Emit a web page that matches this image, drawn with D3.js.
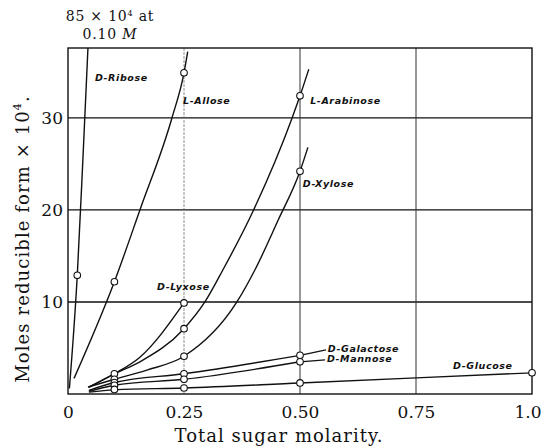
<!DOCTYPE html>
<html>
<head>
<meta charset="utf-8">
<script src="https://cdn.jsdelivr.net/npm/d3@7"></script>
<style>
  body { margin: 0; background: #fff; }
  svg text { fill: #111; }
</style>
</head>
<body>
<div id="chart"></div>
<script>
// curve control points [molarity, moles x 10^4]
const ribose    = [[0.003, 0.6], [0.02, 12.9], [0.032, 25.4], [0.043, 37.6]];
const allose    = [[0.013, 1.7], [0.1, 12.2], [0.155, 20], [0.224, 30], [0.25, 34.9], [0.258, 37.2]];
const lyxose    = [[0.045, 0.75], [0.1, 2.2], [0.155, 4.0], [0.25, 9.9]];
const arabinose = [[0.045, 0.75], [0.1, 2.2], [0.155, 3.5], [0.25, 7.1], [0.295, 10], [0.334, 13.5], [0.4, 20], [0.483, 30], [0.5, 32.4], [0.519, 35.3]];
const xylose    = [[0.043, 0.75], [0.1, 1.6], [0.17, 2.6], [0.25, 4.1], [0.364, 10], [0.403, 13.5], [0.453, 18.9], [0.5, 24.2], [0.517, 26.8]];
const galactose = [[0.045, 0.4], [0.1, 1.25], [0.25, 2.2], [0.5, 4.2]];
const mannose   = [[0.045, 0.3], [0.1, 0.95], [0.25, 1.6], [0.5, 3.5]];
const glucose   = [[0.045, 0.2], [0.1, 0.45], [0.25, 0.65], [0.5, 1.2], [1.0, 2.3]];

// measured points (open circles)
const measured = [
  [0.02, 12.9],
  [0.1, 12.2], [0.25, 34.9],
  [0.25, 9.9],
  [0.1, 2.2], [0.25, 7.1], [0.5, 32.4],
  [0.1, 1.6], [0.25, 4.1], [0.5, 24.2],
  [0.1, 1.25], [0.25, 2.2], [0.5, 4.2],
  [0.1, 0.95], [0.25, 1.6], [0.5, 3.5],
  [0.1, 0.5], [0.25, 0.65], [0.5, 1.2], [1.0, 2.3]
];

// labels: text, x, y (data units), optional leader
const labels = [
  { name: "D-Ribose",    x: 0.058, y: 34.0 },
  { name: "L-Allose",    x: 0.248, y: 31.5 },
  { name: "L-Arabinose", x: 0.522, y: 31.5 },
  { name: "D-Xylose",    x: 0.506, y: 22.5 },
  { name: "D-Lyxose",    x: 0.192, y: 11.3 },
  { name: "D-Galactose", x: 0.560, y: 4.57, from: [0.5, 4.2], to: [0.556, 4.8] },
  { name: "D-Mannose",   x: 0.558, y: 3.48, from: [0.5, 3.5], to: [0.554, 3.7] },
  { name: "D-Glucose",   x: 0.830, y: 2.72 }
];

const xTicks = [0, 0.25, 0.5, 0.75, 1.0];
const xTickLabels = ["0", "0.25", "0.50", "0.75", "1.0"];
const yTicks = [10, 20, 30];

const margin = { top: 48, right: 10, bottom: 54, left: 68 };
const W = 542, H = 448;
const width = W - margin.left - margin.right;
const height = H - margin.top - margin.bottom;

const svg = d3.select("#chart").append("svg")
  .attr("width", W).attr("height", H)
  .append("g")
  .attr("transform", `translate(${margin.left},${margin.top})`);

const x = d3.scaleLinear().domain([0, 1.0]).range([0, width]);
const y = d3.scaleLinear().domain([0, 37.6]).range([height, 0]);

const serif = "'DejaVu Serif', serif";

// grid
svg.append("g").selectAll("line")
  .data(yTicks).enter().append("line")
  .attr("x1", 0).attr("x2", width)
  .attr("y1", d => y(d)).attr("y2", d => y(d))
  .attr("stroke", "#111").attr("stroke-width", 1.3);

svg.append("g").selectAll("line")
  .data(xTicks.slice(1, 4)).enter().append("line")
  .attr("x1", d => x(d)).attr("x2", d => x(d))
  .attr("y1", 0).attr("y2", height)
  .attr("stroke", d => d === 0.25 ? "#777" : "#333")
  .attr("stroke-width", d => d === 0.25 ? 0.8 : 1)
  .attr("stroke-dasharray", d => d === 0.25 ? "3,1" : null);

// frame
svg.append("rect")
  .attr("width", width).attr("height", height)
  .attr("fill", "none").attr("stroke", "#111").attr("stroke-width", 1.4);

// axes (labels only, ticks are the grid)
const xAxis = svg.append("g")
  .attr("transform", `translate(0,${height})`)
  .call(d3.axisBottom(x).tickValues(xTicks).tickSize(0).tickPadding(12)
    .tickFormat((d, i) => xTickLabels[i]));
xAxis.select(".domain").remove();
xAxis.selectAll("text").style("font-family", serif).style("font-size", "17px");
// last label sits flush with the right edge, as in the print
xAxis.selectAll(".tick").filter(d => d === 1.0).select("text")
  .attr("text-anchor", "end").attr("x", 9);

const yAxis = svg.append("g")
  .call(d3.axisLeft(y).tickValues(yTicks).tickSize(0).tickPadding(5));
yAxis.select(".domain").remove();
yAxis.selectAll("text").style("font-family", serif).style("font-size", "17px");

svg.append("text")
  .attr("x", 211).attr("y", height + 48)
  .attr("text-anchor", "middle")
  .style("font-family", serif).style("font-size", "18px")
  .style("letter-spacing", "1px")
  .text("Total sugar molarity.");

svg.append("text")
  .attr("transform", "rotate(-90)")
  .attr("x", -191).attr("y", -39)
  .attr("text-anchor", "middle")
  .style("font-family", serif).style("font-size", "18px")
  .style("letter-spacing", "1.1px")
  .html("Moles reducible form × 10<tspan dy='-8' font-size='11px'>4</tspan><tspan dy='8'>.</tspan>");

// note above ribose
const note = svg.append("text")
  .attr("text-anchor", "middle")
  .style("font-family", serif).style("font-size", "14px")
  .style("letter-spacing", "0.8px");
note.append("tspan").attr("x", 42).attr("y", -27).text("85 × 10");
note.append("tspan").attr("dy", -5).style("font-size", "8px").text("4");
note.append("tspan").attr("dy", 5).text(" at");
const note2 = svg.append("text")
  .attr("x", 42).attr("y", -9)
  .attr("text-anchor", "middle")
  .style("font-family", serif).style("font-size", "14px")
  .style("letter-spacing", "0.8px");
note2.append("tspan").text("0.10 ");
note2.append("tspan").style("font-style", "italic").text("M");

// curves
const line = d3.line()
  .x(d => x(d[0])).y(d => y(d[1]))
  .curve(d3.curveMonotoneX);

const series = [ribose, allose, lyxose, arabinose, xylose, galactose, mannose, glucose];

svg.append("g").selectAll("path")
  .data(series).enter().append("path")
  .attr("d", line)
  .attr("fill", "none").attr("stroke", "#111").attr("stroke-width", 1.4);

// leaders
svg.append("g").selectAll("line")
  .data(labels.filter(d => d.from)).enter().append("line")
  .attr("x1", d => x(d.from[0])).attr("y1", d => y(d.from[1]))
  .attr("x2", d => x(d.to[0])).attr("y2", d => y(d.to[1]))
  .attr("stroke", "#111").attr("stroke-width", 1.2);

// measured points
svg.append("g").selectAll("circle")
  .data(measured).enter().append("circle")
  .attr("cx", d => x(d[0])).attr("cy", d => y(d[1]))
  .attr("r", 3.3)
  .attr("fill", "#fff").attr("stroke", "#111").attr("stroke-width", 1.1);

// curve labels
svg.append("g").selectAll("text")
  .data(labels).enter().append("text")
  .attr("x", d => x(d.x)).attr("y", d => y(d.y))
  .style("font-family", "'DejaVu Sans', sans-serif")
  .style("font-size", "9.5px")
  .style("font-style", "italic")
  .style("font-weight", "bold")
  .style("letter-spacing", "0.6px")
  .text(d => d.name);
</script>
</body>
</html>
